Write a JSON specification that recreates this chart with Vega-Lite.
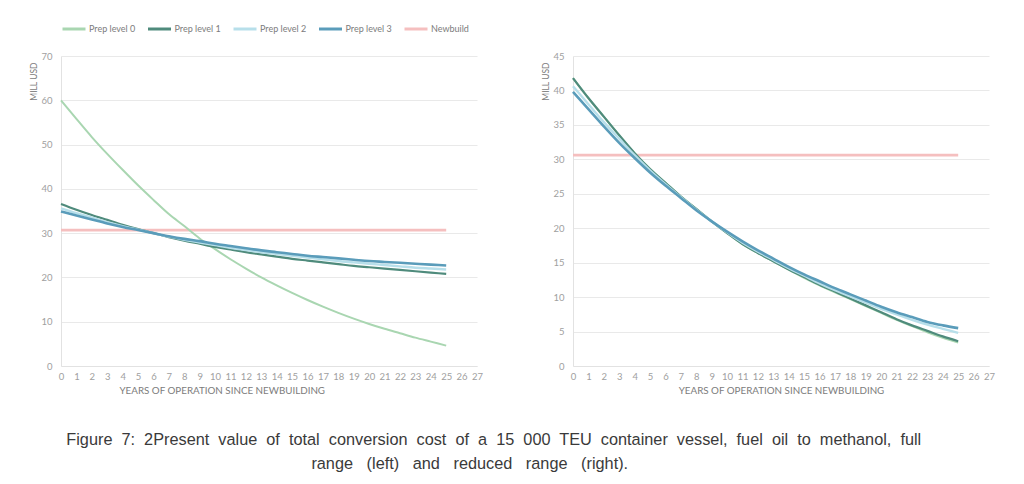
{
  "$schema": "https://vega.github.io/schema/vega-lite/v6.json",
  "background": "white",
  "padding": {"left": 28, "top": 16, "right": 5, "bottom": 5},
  "datasets": {
    "left": [
      {"series":"Newbuild","year":0,"value":30.7},{"series":"Newbuild","year":25,"value":30.7},
      {"series":"Prep level 0","year":0,"value":60},{"series":"Prep level 0","year":1,"value":55.8},{"series":"Prep level 0","year":2,"value":51.7},{"series":"Prep level 0","year":3,"value":47.9},{"series":"Prep level 0","year":4,"value":44.3},{"series":"Prep level 0","year":5,"value":40.8},{"series":"Prep level 0","year":6,"value":37.5},{"series":"Prep level 0","year":7,"value":34.3},{"series":"Prep level 0","year":8,"value":31.6},{"series":"Prep level 0","year":9,"value":28.8},{"series":"Prep level 0","year":10,"value":26.4},{"series":"Prep level 0","year":11,"value":24.1},{"series":"Prep level 0","year":12,"value":22.0},{"series":"Prep level 0","year":13,"value":20.0},{"series":"Prep level 0","year":14,"value":18.2},{"series":"Prep level 0","year":15,"value":16.5},{"series":"Prep level 0","year":16,"value":14.9},{"series":"Prep level 0","year":17,"value":13.4},{"series":"Prep level 0","year":18,"value":12.0},{"series":"Prep level 0","year":19,"value":10.7},{"series":"Prep level 0","year":20,"value":9.5},{"series":"Prep level 0","year":21,"value":8.4},{"series":"Prep level 0","year":22,"value":7.4},{"series":"Prep level 0","year":23,"value":6.4},{"series":"Prep level 0","year":24,"value":5.5},{"series":"Prep level 0","year":25,"value":4.6},
      {"series":"Prep level 1","year":0,"value":36.6},{"series":"Prep level 1","year":1,"value":35.3},{"series":"Prep level 1","year":2,"value":34.1},{"series":"Prep level 1","year":3,"value":33.0},{"series":"Prep level 1","year":4,"value":31.9},{"series":"Prep level 1","year":5,"value":30.9},{"series":"Prep level 1","year":6,"value":30.0},{"series":"Prep level 1","year":7,"value":29.1},{"series":"Prep level 1","year":8,"value":28.3},{"series":"Prep level 1","year":9,"value":27.6},{"series":"Prep level 1","year":10,"value":26.9},{"series":"Prep level 1","year":11,"value":26.3},{"series":"Prep level 1","year":12,"value":25.7},{"series":"Prep level 1","year":13,"value":25.2},{"series":"Prep level 1","year":14,"value":24.7},{"series":"Prep level 1","year":15,"value":24.2},{"series":"Prep level 1","year":16,"value":23.8},{"series":"Prep level 1","year":17,"value":23.4},{"series":"Prep level 1","year":18,"value":23.0},{"series":"Prep level 1","year":19,"value":22.6},{"series":"Prep level 1","year":20,"value":22.3},{"series":"Prep level 1","year":21,"value":22.0},{"series":"Prep level 1","year":22,"value":21.7},{"series":"Prep level 1","year":23,"value":21.4},{"series":"Prep level 1","year":24,"value":21.1},{"series":"Prep level 1","year":25,"value":20.8},
      {"series":"Prep level 2","year":0,"value":35.6},{"series":"Prep level 2","year":1,"value":34.5},{"series":"Prep level 2","year":2,"value":33.5},{"series":"Prep level 2","year":3,"value":32.5},{"series":"Prep level 2","year":4,"value":31.6},{"series":"Prep level 2","year":5,"value":30.8},{"series":"Prep level 2","year":6,"value":30.0},{"series":"Prep level 2","year":7,"value":29.2},{"series":"Prep level 2","year":8,"value":28.5},{"series":"Prep level 2","year":9,"value":27.9},{"series":"Prep level 2","year":10,"value":27.3},{"series":"Prep level 2","year":11,"value":26.7},{"series":"Prep level 2","year":12,"value":26.2},{"series":"Prep level 2","year":13,"value":25.7},{"series":"Prep level 2","year":14,"value":25.3},{"series":"Prep level 2","year":15,"value":24.9},{"series":"Prep level 2","year":16,"value":24.5},{"series":"Prep level 2","year":17,"value":24.1},{"series":"Prep level 2","year":18,"value":23.7},{"series":"Prep level 2","year":19,"value":23.4},{"series":"Prep level 2","year":20,"value":23.1},{"series":"Prep level 2","year":21,"value":22.8},{"series":"Prep level 2","year":22,"value":22.5},{"series":"Prep level 2","year":23,"value":22.2},{"series":"Prep level 2","year":24,"value":22.0},{"series":"Prep level 2","year":25,"value":21.8},
      {"series":"Prep level 3","year":0,"value":34.9},{"series":"Prep level 3","year":1,"value":34.0},{"series":"Prep level 3","year":2,"value":33.1},{"series":"Prep level 3","year":3,"value":32.2},{"series":"Prep level 3","year":4,"value":31.4},{"series":"Prep level 3","year":5,"value":30.7},{"series":"Prep level 3","year":6,"value":30.0},{"series":"Prep level 3","year":7,"value":29.3},{"series":"Prep level 3","year":8,"value":28.7},{"series":"Prep level 3","year":9,"value":28.2},{"series":"Prep level 3","year":10,"value":27.6},{"series":"Prep level 3","year":11,"value":27.1},{"series":"Prep level 3","year":12,"value":26.6},{"series":"Prep level 3","year":13,"value":26.1},{"series":"Prep level 3","year":14,"value":25.7},{"series":"Prep level 3","year":15,"value":25.3},{"series":"Prep level 3","year":16,"value":24.9},{"series":"Prep level 3","year":17,"value":24.6},{"series":"Prep level 3","year":18,"value":24.3},{"series":"Prep level 3","year":19,"value":24.0},{"series":"Prep level 3","year":20,"value":23.7},{"series":"Prep level 3","year":21,"value":23.5},{"series":"Prep level 3","year":22,"value":23.3},{"series":"Prep level 3","year":23,"value":23.1},{"series":"Prep level 3","year":24,"value":22.9},{"series":"Prep level 3","year":25,"value":22.7}
    ],
    "right": [
      {"series":"Newbuild","year":0,"value":30.6},{"series":"Newbuild","year":25,"value":30.6},
      {"series":"Prep level 0","year":0,"value":41.8},{"series":"Prep level 0","year":1,"value":38.9},{"series":"Prep level 0","year":2,"value":36.2},{"series":"Prep level 0","year":3,"value":33.5},{"series":"Prep level 0","year":4,"value":30.9},{"series":"Prep level 0","year":5,"value":28.6},{"series":"Prep level 0","year":6,"value":26.6},{"series":"Prep level 0","year":7,"value":24.6},{"series":"Prep level 0","year":8,"value":22.8},{"series":"Prep level 0","year":9,"value":21.0},{"series":"Prep level 0","year":10,"value":19.3},{"series":"Prep level 0","year":11,"value":17.7},{"series":"Prep level 0","year":12,"value":16.4},{"series":"Prep level 0","year":13,"value":15.2},{"series":"Prep level 0","year":14,"value":14.0},{"series":"Prep level 0","year":15,"value":12.8},{"series":"Prep level 0","year":16,"value":11.7},{"series":"Prep level 0","year":17,"value":10.7},{"series":"Prep level 0","year":18,"value":9.7},{"series":"Prep level 0","year":19,"value":8.7},{"series":"Prep level 0","year":20,"value":7.7},{"series":"Prep level 0","year":21,"value":6.7},{"series":"Prep level 0","year":22,"value":5.8},{"series":"Prep level 0","year":23,"value":4.9},{"series":"Prep level 0","year":24,"value":4.1},{"series":"Prep level 0","year":25,"value":3.4},
      {"series":"Prep level 1","year":0,"value":41.8},{"series":"Prep level 1","year":1,"value":38.9},{"series":"Prep level 1","year":2,"value":36.2},{"series":"Prep level 1","year":3,"value":33.5},{"series":"Prep level 1","year":4,"value":30.9},{"series":"Prep level 1","year":5,"value":28.6},{"series":"Prep level 1","year":6,"value":26.6},{"series":"Prep level 1","year":7,"value":24.6},{"series":"Prep level 1","year":8,"value":22.8},{"series":"Prep level 1","year":9,"value":21.0},{"series":"Prep level 1","year":10,"value":19.3},{"series":"Prep level 1","year":11,"value":17.7},{"series":"Prep level 1","year":12,"value":16.4},{"series":"Prep level 1","year":13,"value":15.2},{"series":"Prep level 1","year":14,"value":14.0},{"series":"Prep level 1","year":15,"value":12.9},{"series":"Prep level 1","year":16,"value":11.8},{"series":"Prep level 1","year":17,"value":10.8},{"series":"Prep level 1","year":18,"value":9.8},{"series":"Prep level 1","year":19,"value":8.8},{"series":"Prep level 1","year":20,"value":7.8},{"series":"Prep level 1","year":21,"value":6.8},{"series":"Prep level 1","year":22,"value":5.9},{"series":"Prep level 1","year":23,"value":5.1},{"series":"Prep level 1","year":24,"value":4.3},{"series":"Prep level 1","year":25,"value":3.6},
      {"series":"Prep level 2","year":0,"value":40.6},{"series":"Prep level 2","year":1,"value":38.0},{"series":"Prep level 2","year":2,"value":35.4},{"series":"Prep level 2","year":3,"value":33.0},{"series":"Prep level 2","year":4,"value":30.6},{"series":"Prep level 2","year":5,"value":28.4},{"series":"Prep level 2","year":6,"value":26.4},{"series":"Prep level 2","year":7,"value":24.5},{"series":"Prep level 2","year":8,"value":22.7},{"series":"Prep level 2","year":9,"value":21.0},{"series":"Prep level 2","year":10,"value":19.4},{"series":"Prep level 2","year":11,"value":17.9},{"series":"Prep level 2","year":12,"value":16.6},{"series":"Prep level 2","year":13,"value":15.4},{"series":"Prep level 2","year":14,"value":14.2},{"series":"Prep level 2","year":15,"value":13.1},{"series":"Prep level 2","year":16,"value":12.0},{"series":"Prep level 2","year":17,"value":11.0},{"series":"Prep level 2","year":18,"value":10.1},{"series":"Prep level 2","year":19,"value":9.2},{"series":"Prep level 2","year":20,"value":8.3},{"series":"Prep level 2","year":21,"value":7.5},{"series":"Prep level 2","year":22,"value":6.7},{"series":"Prep level 2","year":23,"value":6.0},{"series":"Prep level 2","year":24,"value":5.4},{"series":"Prep level 2","year":25,"value":4.8},
      {"series":"Prep level 3","year":0,"value":39.8},{"series":"Prep level 3","year":1,"value":37.3},{"series":"Prep level 3","year":2,"value":34.8},{"series":"Prep level 3","year":3,"value":32.4},{"series":"Prep level 3","year":4,"value":30.2},{"series":"Prep level 3","year":5,"value":28.1},{"series":"Prep level 3","year":6,"value":26.2},{"series":"Prep level 3","year":7,"value":24.4},{"series":"Prep level 3","year":8,"value":22.6},{"series":"Prep level 3","year":9,"value":21.0},{"series":"Prep level 3","year":10,"value":19.5},{"series":"Prep level 3","year":11,"value":18.1},{"series":"Prep level 3","year":12,"value":16.8},{"series":"Prep level 3","year":13,"value":15.6},{"series":"Prep level 3","year":14,"value":14.4},{"series":"Prep level 3","year":15,"value":13.3},{"series":"Prep level 3","year":16,"value":12.3},{"series":"Prep level 3","year":17,"value":11.3},{"series":"Prep level 3","year":18,"value":10.4},{"series":"Prep level 3","year":19,"value":9.5},{"series":"Prep level 3","year":20,"value":8.6},{"series":"Prep level 3","year":21,"value":7.8},{"series":"Prep level 3","year":22,"value":7.1},{"series":"Prep level 3","year":23,"value":6.4},{"series":"Prep level 3","year":24,"value":5.9},{"series":"Prep level 3","year":25,"value":5.5}
    ]
  },
  "title": {
    "text": ["Figure\u00a0 7:\u00a0 2Present\u00a0 value\u00a0 of\u00a0 total\u00a0 conversion\u00a0 cost\u00a0 of\u00a0 a\u00a0 15\u00a0 000\u00a0 TEU\u00a0 container\u00a0 vessel,\u00a0 fuel\u00a0 oil\u00a0 to\u00a0 methanol,\u00a0 full", "range\u00a0\u00a0 (left)\u00a0\u00a0 and\u00a0\u00a0 reduced\u00a0\u00a0 range\u00a0\u00a0 (right).\u2800\u2800\u2800\u2800"],
    "orient": "bottom",
    "anchor": "middle",
    "font": "Liberation Sans",
    "fontSize": 16.3,
    "fontWeight": "normal",
    "color": "#3a3a3a",
    "lineHeight": 24,
    "offset": 37,
    "dx": -18
  },
  "spacing": 57,
  "resolve": {"scale": {"color": "shared", "strokeWidth": "shared"}, "legend": {"color": "shared", "strokeWidth": "independent"}},
  "hconcat": [
    {
      "width": 416,
      "height": 310,
      "data": {"name": "left"},
      "mark": {"type": "line", "interpolate": "monotone"},
      "encoding": {
        "x": {"field": "year", "type": "quantitative", "scale": {"domain": [0, 27], "nice": false},
              "axis": {"values": [0,1,2,3,4,5,6,7,8,9,10,11,12,13,14,15,16,17,18,19,20,21,22,23,24,25,26,27], "title": "YEARS OF OPERATION SINCE NEWBUILDING", "titleAnchor": "start", "titleX": 58}},
        "y": {"field": "value", "type": "quantitative", "scale": {"domain": [0, 70], "nice": false},
              "axis": {"values": [0,10,20,30,40,50,60,70], "title": "MILL USD"}},
        "color": {"field": "series", "type": "nominal",
                  "scale": {"domain": ["Prep level 0","Prep level 1","Prep level 2","Prep level 3","Newbuild"], "range": ["#a9d6b1","#4f8b7c","#b7dfea","#5a9cba","#f5bfbf"]},
                  "legend": {"orient": "none", "legendX": 0, "legendY": -40, "direction": "horizontal", "title": null, "symbolType": "stroke", "symbolSize": 529, "symbolStrokeWidth": 3, "labelFont": "Lato", "labelFontSize": 9, "labelColor": "#7c7c7c", "labelOffset": 2, "columnPadding": 5.5, "gridAlign": "all"}},
        "strokeWidth": {"field": "series", "type": "nominal",
                        "scale": {"domain": ["Prep level 0","Prep level 1","Prep level 2","Prep level 3","Newbuild"], "range": [2, 2.8, 2.8, 2.8, 2.5]}, "legend": null}
      }
    },
    {
      "width": 416,
      "height": 310,
      "data": {"name": "right"},
      "mark": {"type": "line", "interpolate": "monotone"},
      "encoding": {
        "x": {"field": "year", "type": "quantitative", "scale": {"domain": [0, 27], "nice": false},
              "axis": {"values": [0,1,2,3,4,5,6,7,8,9,10,11,12,13,14,15,16,17,18,19,20,21,22,23,24,25,26,27], "title": "YEARS OF OPERATION SINCE NEWBUILDING"}},
        "y": {"field": "value", "type": "quantitative", "scale": {"domain": [0, 45], "nice": false},
              "axis": {"values": [0,5,10,15,20,25,30,35,40,45], "title": "MILL USD"}},
        "color": {"field": "series", "type": "nominal",
                  "scale": {"domain": ["Prep level 0","Prep level 1","Prep level 2","Prep level 3","Newbuild"], "range": ["#a9d6b1","#4f8b7c","#b7dfea","#5a9cba","#f5bfbf"]}},
        "strokeWidth": {"field": "series", "type": "nominal",
                        "scale": {"domain": ["Prep level 0","Prep level 1","Prep level 2","Prep level 3","Newbuild"], "range": [2, 2.8, 2.8, 2.8, 2.5]}, "legend": null}
      }
    }
  ],
  "config": {
    "view": {"stroke": null},
    "axis": {
      "labelFont": "Lato", "labelFontSize": 9.5, "labelColor": "#a0a0a0",
      "titleFont": "Lato", "titleFontSize": 9.8, "titleFontWeight": "normal", "titleColor": "#7c7c7c",
      "gridColor": "#e9e9e9", "gridWidth": 1, "domainColor": "#e2e2e2", "ticks": false
    },
    "axisX": {"grid": false, "labelPadding": 5, "titlePadding": 5, "labelFlush": false},
    "axisY": {"labelPadding": 9, "titleFontSize": 8.5, "titleAngle": -90, "titleX": -28, "titleY": 6, "titleAlign": "right", "titleBaseline": "middle", "titleAnchor": null}
  }
}
